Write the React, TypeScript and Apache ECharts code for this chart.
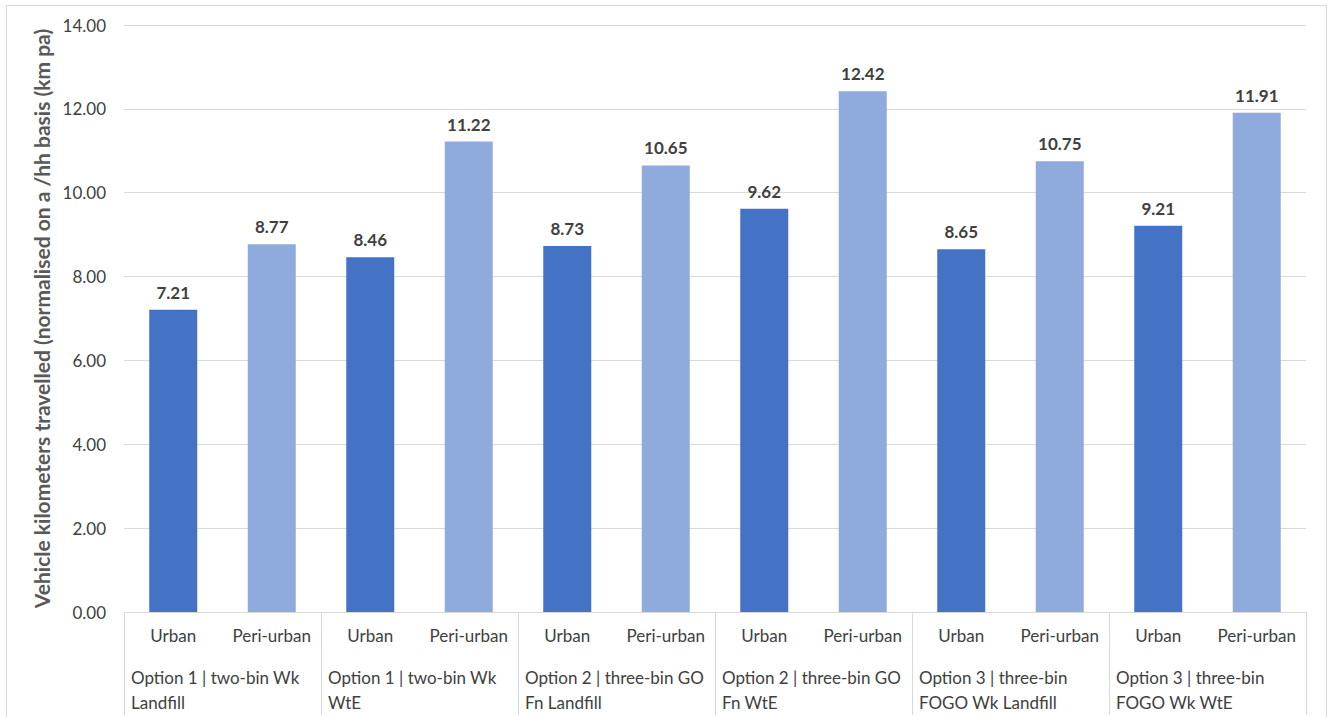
import React, { useEffect, useRef } from "react";
import * as echarts from "echarts";

// Bars, one per area type within each collection option
const areaTypes = ["Urban", "Peri-urban", "Urban", "Peri-urban", "Urban", "Peri-urban", "Urban", "Peri-urban", "Urban", "Peri-urban", "Urban", "Peri-urban"];
const kmValues = [7.21, 8.77, 8.46, 11.22, 8.73, 10.65, 9.62, 12.42, 8.65, 10.75, 9.21, 11.91];

// Option groups, each spanning two bars (last entry closes the final group)
const optionGroups = [
  "Option 1 | two-bin Wk\nLandfill",
  "Option 1 | two-bin Wk\nWtE",
  "Option 2 | three-bin GO\nFn Landfill",
  "Option 2 | three-bin GO\nFn WtE",
  "Option 3 | three-bin\nFOGO Wk Landfill",
  "Option 3 | three-bin\nFOGO Wk WtE",
  "",
];

const yTicks = { min: 0, max: 14, interval: 2 };
const yTitle = "Vehicle kilometers travelled (normalised on a /hh basis (km pa)";

const URBAN = "#4472C4";
const PERI = "#8FAADC";
const GRID = "#D9D9D9";
const TEXT = "#404040";
const TITLE = "#595959";
const FONT = "Lato, 'Open Sans', sans-serif";

export default function App() {
  const ref = useRef<HTMLDivElement>(null);

  useEffect(() => {
    if (!ref.current) return;
    const chart = echarts.init(ref.current, null, { renderer: "svg" });
    chart.setOption({
      animation: false,
      textStyle: { fontFamily: FONT },
      grid: { left: 124, right: 25, top: 25, bottom: 105 },
      graphic: [
        {
          type: "rect",
          shape: { x: 6.5, y: 5.5, width: 1320, height: 720 },
          style: { fill: "none", stroke: GRID, lineWidth: 1 },
          silent: true,
        },
      ],
      xAxis: [
        {
          type: "category",
          data: areaTypes,
          axisLine: { show: true, lineStyle: { color: GRID, width: 1 } },
          axisTick: { show: false },
          axisLabel: { color: TEXT, fontSize: 17, margin: 15, interval: 0, fontFamily: FONT },
        },
        {
          type: "category",
          data: optionGroups,
          position: "bottom",
          boundaryGap: false,
          axisLine: { show: false },
          axisTick: { show: true, length: 103, interval: 0, lineStyle: { color: GRID, width: 1 } },
          axisLabel: {
            color: TEXT,
            fontSize: 17,
            margin: 53,
            interval: 0,
            align: "left",
            lineHeight: 25,
            padding: [0, 0, 0, 7],
            fontFamily: FONT,
          },
        },
      ],
      yAxis: {
        type: "value",
        min: yTicks.min,
        max: yTicks.max,
        interval: yTicks.interval,
        name: yTitle,
        nameLocation: "middle",
        nameGap: 70,
        nameTextStyle: { color: TITLE, fontSize: 21, fontWeight: "bold", fontFamily: FONT },
        axisLine: { show: false },
        axisTick: { show: false },
        splitLine: { lineStyle: { color: GRID, width: 1 } },
        axisLabel: {
          color: TEXT,
          fontSize: 17,
          margin: 18,
          fontFamily: FONT,
          formatter: (v: number) => v.toFixed(2),
        },
      },
      series: [
        {
          type: "bar",
          xAxisIndex: 0,
          barWidth: 48,
          data: kmValues.map((v, i) => ({
            value: v,
            itemStyle: { color: areaTypes[i] === "Urban" ? URBAN : PERI },
          })),
          label: {
            show: true,
            position: "top",
            distance: 9,
            color: TEXT,
            fontSize: 17,
            fontWeight: "bold",
            fontFamily: FONT,
            formatter: (p: any) => Number(p.value).toFixed(2),
          },
        },
      ],
    });
    return () => chart.dispose();
  }, []);

  return (
    <div
      ref={ref}
      style={{ position: "fixed", left: 0, top: 0, width: 1331, height: 717, background: "#fff" }}
    />
  );
}
